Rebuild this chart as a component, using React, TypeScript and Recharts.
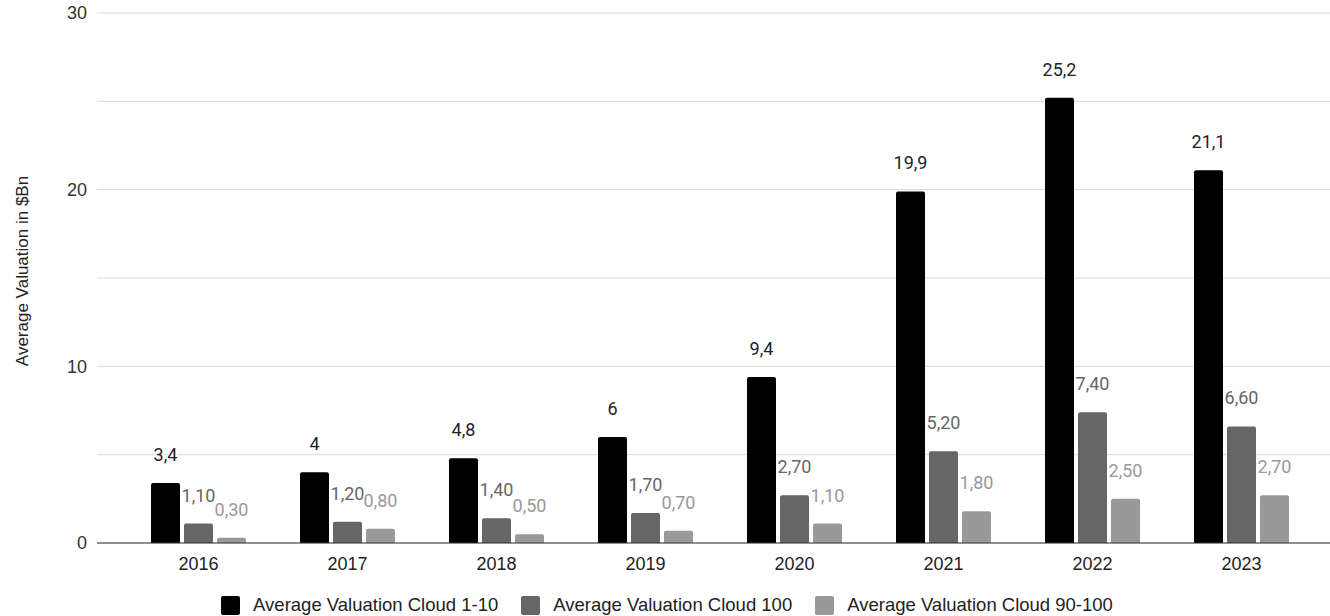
import { BarChart, Bar, XAxis, YAxis, CartesianGrid, Legend, LabelList } from "recharts";

const years = ["2016", "2017", "2018", "2019", "2020", "2021", "2022", "2023"];
const cloud1to10 = [3.4, 4, 4.8, 6, 9.4, 19.9, 25.2, 21.1];
const cloud100 = [1.1, 1.2, 1.4, 1.7, 2.7, 5.2, 7.4, 6.6];
const cloud90to100 = [0.3, 0.8, 0.5, 0.7, 1.1, 1.8, 2.5, 2.7];
const yTicks = [0, 5, 10, 15, 20, 25, 30];

const SERIES = [
  { key: "c1", name: "Average Valuation Cloud 1-10", color: "#000000", label: "#222222" },
  { key: "c100", name: "Average Valuation Cloud 100", color: "#666666", label: "#666666" },
  { key: "c90", name: "Average Valuation Cloud 90-100", color: "#999999", label: "#999999" },
];

const data = years.map((year, i) => ({
  year,
  c1: cloud1to10[i],
  c100: cloud100[i],
  c90: cloud90to100[i],
}));

const fmtShort = (v: number) => String(v).replace(".", ",");
const fmtTwo = (v: number) => v.toFixed(2).replace(".", ",");

const SANS = "'Liberation Sans', Arial, sans-serif";

function LegendBox() {
  return (
    <div
      style={{
        display: "flex",
        justifyContent: "center",
        alignItems: "center",
        height: 22,
        fontFamily: SANS,
        fontSize: 18.5,
        color: "#222",
        paddingLeft: 4,
      }}
    >
      {SERIES.map((s) => (
        <div key={s.key} style={{ display: "flex", alignItems: "center", margin: "0 11.5px" }}>
          <span
            style={{
              width: 19,
              height: 19,
              background: s.color,
              borderRadius: 2,
              marginRight: 13,
              display: "inline-block",
            }}
          />
          {s.name}
        </div>
      ))}
    </div>
  );
}

export default function App() {
  return (
    <div style={{ position: "absolute", left: 0, top: 0, background: "#fff" }}>
      <BarChart
        width={1330}
        height={616}
        data={data}
        margin={{ top: 13, right: 0, bottom: 0, left: 0 }}
        barSize={29}
        barGap={4}
      >
        <CartesianGrid vertical={false} stroke="#d9d9d9" />
        <XAxis
          dataKey="year"
          height={51}
          padding={{ left: 27, right: 14 }}
          axisLine={{ stroke: "#333" }}
          tickLine={false}
          tickMargin={8}
          tick={{ fontSize: 18, fill: "#222", fontFamily: SANS }}
        />
        <YAxis
          width={97}
          domain={[0, 30]}
          ticks={yTicks}
          interval={0}
          axisLine={false}
          tickLine={false}
          tickMargin={4}
          tickFormatter={(v: number) => (v % 10 === 0 ? String(v) : "")}
          tick={{ fontSize: 18, fill: "#333", fontFamily: SANS }}
          label={{
            content: () => (
              <text
                x={0}
                y={0}
                transform="translate(28,271) rotate(-90)"
                textAnchor="middle"
                fontSize={17}
                fill="#222"
                fontFamily={SANS}
              >
                Average Valuation in $Bn
              </text>
            ),
          }}
        />
        <Legend verticalAlign="bottom" content={() => <LegendBox />} />
        {SERIES.map((s, idx) => (
          <Bar
            key={s.key}
            dataKey={s.key}
            name={s.name}
            fill={s.color}
            radius={[2, 2, 0, 0]}
            isAnimationActive={false}
          >
            <LabelList
              dataKey={s.key}
              position="top"
              offset={22}
              formatter={(v: number) => (idx === 0 ? fmtShort(v) : fmtTwo(v))}
              style={{
                fontSize: 18,
                fill: s.label,
                fontFamily: "Roboto, sans-serif",
                stroke: "#fff",
                strokeWidth: 3,
                paintOrder: "stroke",
              }}
            />
          </Bar>
        ))}
      </BarChart>
    </div>
  );
}
